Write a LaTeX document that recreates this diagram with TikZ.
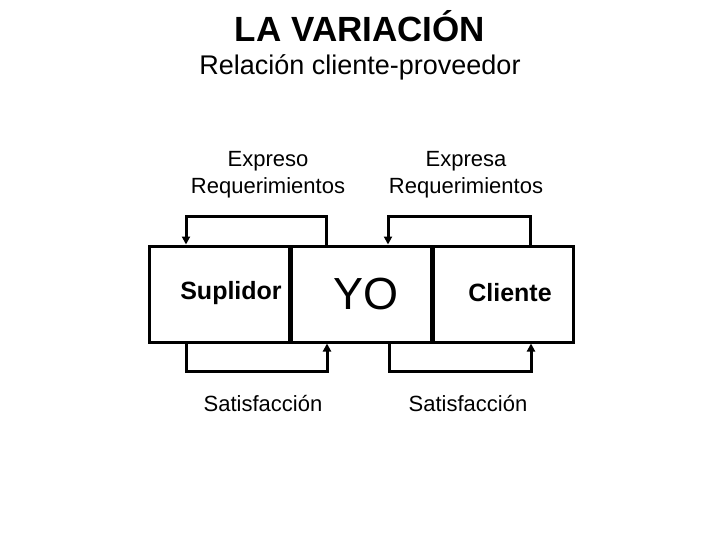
\documentclass[tikz,border=0pt]{standalone}
\usepackage{fontspec}
\setmainfont{Liberation Sans}
\usetikzlibrary{arrows.meta}
\begin{document}
\begin{tikzpicture}[x=1pt,y=-1pt,
  box/.style={draw,line width=3pt,minimum width=140pt,minimum height=96pt,inner sep=0pt},
  loop/.style={line width=3pt,-{Triangle[length=8pt,width=8pt]}},
  lbl/.style={align=center,font=\fontsize{22}{27}\selectfont}]
\useasboundingbox (0,0) rectangle (720,540);
\node[font=\bfseries\fontsize{35}{40}\selectfont] (t) at (360,26) {LA VARIACIÓN};
\node[font=\fontsize{27}{32}\selectfont] (s) at (360,67) {Relación cliente-proveedor};
\node[box] (a) at (219,294) {};
\node[box] (b) at (361,294) {};
\node[box] (c) at (503,294) {};
\node[font=\bfseries\fontsize{25}{30}\selectfont] (ta) at (231,293) {Suplidor};
\node[font=\fontsize{45}{50}\selectfont] (tb) at (366,294) {YO};
\node[font=\bfseries\fontsize{25}{30}\selectfont] (tc) at (510,293) {Cliente};
\node[lbl] (e1) at (268,175) {Expreso\\Requerimientos};
\node[lbl] (e2) at (466,175) {Expresa\\Requerimientos};
\node[lbl] (s1) at (263,404) {Satisfacción};
\node[lbl] (s2) at (468,404) {Satisfacción};
\draw[loop] (b.north west -| 326,0) |- (186,217) -- (a.north -| 186,0);
\draw[loop] (c.north west -| 530,0) |- (388,217) -- (b.north -| 388,0);
\draw[loop] (a.south -| 186,0) |- (327,371) -- (b.south -| 327,0);
\draw[loop] (b.south -| 389,0) |- (531,371) -- (c.south -| 531,0);
\end{tikzpicture}
\end{document}
